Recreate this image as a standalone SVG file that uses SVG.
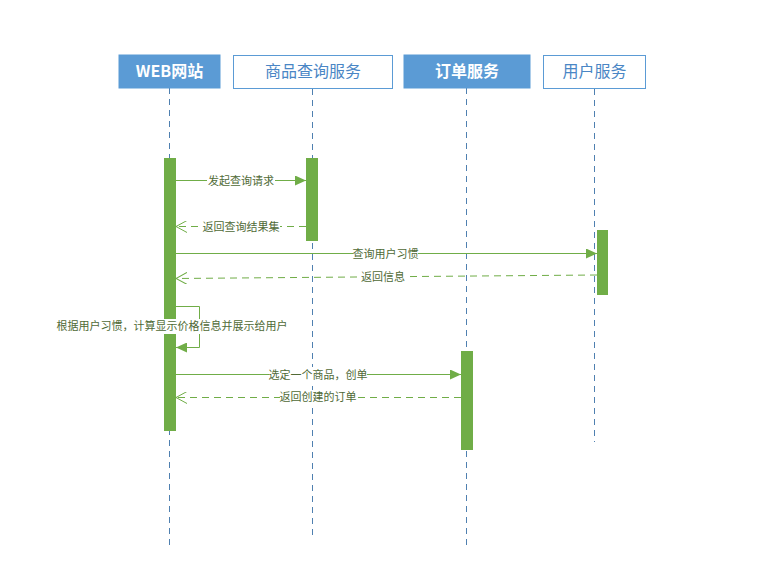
<svg xmlns="http://www.w3.org/2000/svg" width="784" height="580" viewBox="0 0 784 580">
<style>
.hdrF{fill:#5b9bd5;stroke:#5b9bd5;stroke-width:1}
.hdrO{fill:#ffffff;stroke:#5b9bd5;stroke-width:1}
.tW{font-family:"Noto Sans CJK SC","Liberation Sans",sans-serif;font-size:16px;font-weight:bold;fill:#ffffff;text-anchor:middle}
.tB{font-family:"Noto Sans CJK SC","Liberation Sans",sans-serif;font-size:16px;fill:#4a86c5;text-anchor:middle}
.life{stroke:#4f80b0;stroke-width:1;stroke-dasharray:6 5;fill:none}
.act{fill:#70ad47}
.msg{stroke:#70ad47;stroke-width:1;fill:none}
.ret{stroke:#70ad47;stroke-width:1;fill:none;stroke-dasharray:7 5}
.lbl{font-family:"Noto Sans CJK SC","Liberation Sans",sans-serif;font-size:11px;fill:#4f6a36;text-anchor:middle}
</style>
<defs>
<marker id="fill" markerWidth="12" markerHeight="10" refX="11" refY="5" orient="auto" markerUnits="userSpaceOnUse">
<path d="M0,0 L11,5 L0,10 Z" fill="#70ad47"/>
</marker>
<marker id="open" markerWidth="12" markerHeight="12" refX="11" refY="6" orient="auto" markerUnits="userSpaceOnUse">
<path d="M0,0 L11,6 L0,12" fill="none" stroke="#70ad47" stroke-width="1"/>
</marker>
</defs>
<rect width="784" height="580" fill="#ffffff"/>
<g id="lifelines">
<line class="life" x1="169.5" y1="88" x2="169.5" y2="550"/>
<line class="life" x1="312.5" y1="89" x2="312.5" y2="540"/>
<line class="life" x1="466.5" y1="88" x2="466.5" y2="550"/>
<line class="life" x1="594.5" y1="89" x2="594.5" y2="442"/>
</g>
<g id="web">
<rect class="hdrF" x="119" y="55" width="101" height="33"/>
<text class="tW" x="169.5" y="77">WEB网站</text>
</g>
<g id="query">
<rect class="hdrO" x="233.5" y="55.5" width="159" height="33"/>
<text class="tB" x="313" y="77">商品查询服务</text>
</g>
<g id="order">
<rect class="hdrF" x="404" y="55" width="126" height="33"/>
<text class="tW" x="467" y="77">订单服务</text>
</g>
<g id="user">
<rect class="hdrO" x="543.5" y="55.5" width="102" height="33"/>
<text class="tB" x="594.5" y="77">用户服务</text>
</g>
<g id="activations">
<rect class="act" x="164" y="158" width="12" height="273"/>
<rect class="act" x="306" y="158" width="12" height="83"/>
<rect class="act" x="597" y="230" width="11" height="65"/>
<rect class="act" x="461" y="351" width="12" height="99"/>
</g>
<g id="connectors">
<line class="msg" x1="176" y1="180.5" x2="306" y2="180.5" marker-end="url(#fill)"/>
<line class="ret" x1="306" y1="226.5" x2="176" y2="226.5" marker-end="url(#open)"/>
<line class="msg" x1="176" y1="253.5" x2="597" y2="253.5" marker-end="url(#fill)"/>
<line class="ret" x1="597" y1="275" x2="176" y2="278.5" marker-end="url(#open)"/>
<polyline class="msg" points="176,306.5 199.5,306.5 199.5,347.5 176,347.5" marker-end="url(#fill)"/>
<line class="msg" x1="176" y1="374.5" x2="461" y2="374.5" marker-end="url(#fill)"/>
<line class="ret" x1="461" y1="397.5" x2="176" y2="397.5" marker-end="url(#open)"/>
</g>
<g id="labels">
<rect x="207" y="173" width="68" height="14" fill="#ffffff"/>
<text class="lbl" x="241" y="184.5">发起查询请求</text>
<rect x="202" y="219" width="78" height="14" fill="#ffffff"/>
<text class="lbl" x="241" y="230.5">返回查询结果集</text>
<rect x="353" y="246" width="65" height="14" fill="#ffffff"/>
<text class="lbl" x="385.5" y="257.5">查询用户习惯</text>
<rect x="361" y="270" width="44" height="14" fill="#ffffff"/>
<text class="lbl" x="383" y="281">返回信息</text>
<rect x="58" y="319" width="228" height="15" fill="#ffffff"/>
<text class="lbl" x="172" y="330">根据用户习惯，计算显示价格信息并展示给用户</text>
<rect x="269" y="367" width="98" height="14" fill="#ffffff"/>
<text class="lbl" x="318" y="378.5">选定一个商品，创单</text>
<rect x="280" y="390" width="76" height="14" fill="#ffffff"/>
<text class="lbl" x="318" y="401">返回创建的订单</text>
</g>
</svg>
